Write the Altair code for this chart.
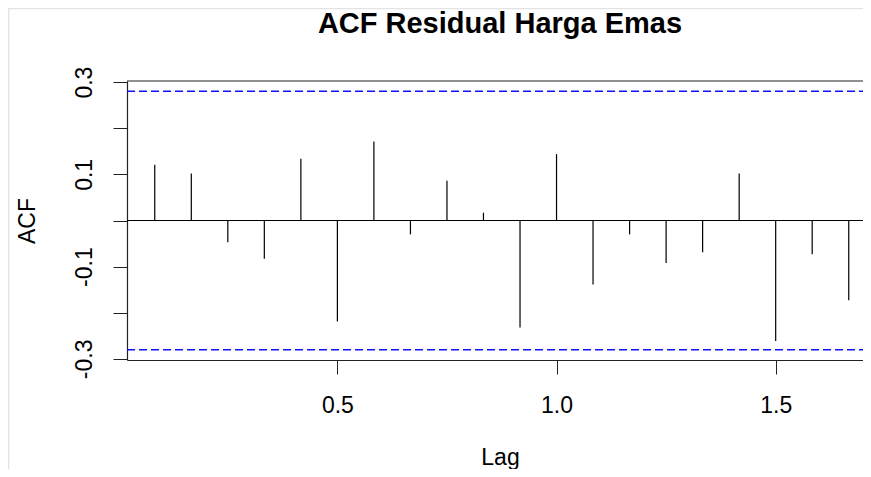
import altair as alt
import pandas as pd

# ---- data ----
lags = [0.0833, 0.1667, 0.2500, 0.3333, 0.4167, 0.5000, 0.5833, 0.6667, 0.7500, 0.8333,
        0.9167, 1.0000, 1.0833, 1.1667, 1.2500, 1.3333, 1.4167, 1.5000, 1.5833, 1.6667]
acf_values = [0.121, 0.102, -0.047, -0.083, 0.134, -0.219, 0.171, -0.030, 0.086, 0.017,
              -0.232, 0.144, -0.139, -0.030, -0.092, -0.069, 0.102, -0.261, -0.073, -0.173]
ci_bounds = [0.28, -0.28]
x_ticks = [0.5, 1.0, 1.5]
y_ticks = [-0.3, -0.2, -0.1, 0.0, 0.1, 0.2, 0.3]
title_text = "ACF Residual Harga Emas"

FONT = "Liberation Sans, Arial, sans-serif"
W, H = 736, 279

df = pd.DataFrame({"lag": lags, "acf": acf_values, "zero": [0.0] * len(lags)})
ci_df = pd.DataFrame({"ci": ci_bounds})
title_df = pd.DataFrame({"t": [title_text]})

xscale = alt.Scale(domain=[0.02, 0.02 + W / 438.3], nice=False, zero=False)
yscale = alt.Scale(domain=[-0.3024, 0.3024], nice=False, zero=False)

x_axis = alt.Axis(
    values=x_ticks, format=".1f", tickSize=14, tickColor="#222222", tickWidth=1,
    domainColor="#222222", domainWidth=1.2, grid=False,
    labelFont=FONT, labelFontSize=23, labelColor="black",
    labelBaseline="alphabetic", labelPadding=38, labelFlush=False, labelOverlap=False,
    title="Lag", titleFont=FONT, titleFontSize=23, titleFontWeight="normal", titleColor="black",
    titleX=373, titleY=104, titleAlign="center", titleBaseline="alphabetic", titleAngle=0,
)
y_axis = alt.Axis(
    values=y_ticks, tickSize=14, tickColor="#222222", tickWidth=1,
    domainColor="#222222", domainWidth=1.2, grid=False,
    labelExpr="round(abs(datum.value)*10) % 2 == 1 ? (datum.value < 0 ? '-' : '') + format(abs(datum.value), '.1f') : ''",
    labelFont=FONT, labelFontSize=23, labelColor="black",
    labelAngle=270, labelAlign="center", labelBaseline="alphabetic", labelPadding=22,
    labelOverlap=False, labelFlush=False,
    title="ACF", titleFont=FONT, titleFontSize=23, titleFontWeight="normal", titleColor="black",
    titleAngle=270, titleX=-93, titleY=139.5, titleAlign="center", titleBaseline="alphabetic",
)

spikes = alt.Chart(df).mark_rule(color="black", strokeWidth=1.2).encode(
    x=alt.X("lag:Q", scale=xscale, axis=x_axis),
    y=alt.Y("zero:Q", scale=yscale, axis=y_axis),
    y2="acf:Q",
)

zero_line = alt.Chart(title_df).mark_rule(color="black", strokeWidth=1.2).encode(
    y=alt.Y("z:Q", scale=yscale, axis=y_axis),
    x=alt.value(0), x2=alt.value(W),
).transform_calculate(z="0")

ci_lines = alt.Chart(ci_df).mark_rule(color="#1010FF", strokeWidth=1.5, strokeDash=[8, 4]).encode(
    y=alt.Y("ci:Q", scale=yscale, axis=y_axis),
    x=alt.value(0), x2=alt.value(W),
)

top_border = alt.Chart(title_df).mark_rule(color="#222222", strokeWidth=1.2).encode(
    y=alt.value(0), x=alt.value(0), x2=alt.value(W),
)

frame_left = alt.Chart(title_df).mark_rule(color="#e3e3e3", strokeWidth=1.5).encode(
    x=alt.value(-118.5), y=alt.value(-73), y2=alt.value(388),
)
frame_top = alt.Chart(title_df).mark_rule(color="#e3e3e3", strokeWidth=1.5).encode(
    y=alt.value(-72.5), x=alt.value(-119), x2=alt.value(W),
)

title = alt.Chart(title_df).mark_text(
    font=FONT, fontSize=29, fontWeight="bold", color="black",
    align="center", baseline="alphabetic",
).encode(text="t:N", x=alt.value(373), y=alt.value(-48))

chart = alt.layer(
    frame_left, frame_top, ci_lines, zero_line, spikes, top_border, title
).properties(
    width=W, height=H,
    autosize="none",
    padding={"left": 119, "top": 73, "right": 0, "bottom": 109},
    background="white",
).configure_view(stroke=None)

chart.save("out.html", embed_options={"renderer": "svg", "actions": False})
